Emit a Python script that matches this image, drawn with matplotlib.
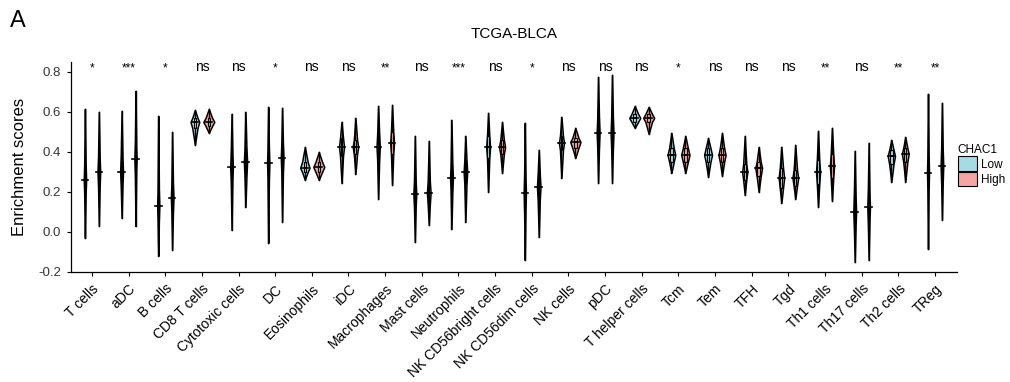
import matplotlib
matplotlib.use("Agg")
import matplotlib.pyplot as plt
from matplotlib.patches import Patch
import numpy as np

plt.rcParams["font.family"] = ["Liberation Sans", "DejaVu Sans"]

cells = ["T cells", "aDC", "B cells", "CD8 T cells", "Cytotoxic cells", "DC",
         "Eosinophils", "iDC", "Macrophages", "Mast cells", "Neutrophils",
         "NK CD56bright cells", "NK CD56dim cells", "NK cells", "pDC",
         "T helper cells", "Tcm", "Tem", "TFH", "Tgd", "Th1 cells",
         "Th17 cells", "Th2 cells", "TReg"]
signif = ["*", "***", "*", "ns", "ns", "*", "ns", "ns", "**", "ns", "***", "ns",
          "*", "ns", "ns", "ns", "*", "ns", "ns", "ns", "**", "ns", "**", "**"]

# CHAC1 low group: min, q1, median, q3, max
low_min = [-0.03, 0.07, -0.12, 0.435, 0.01, -0.055, 0.26, 0.245, 0.165, -0.05,
           0.015, 0.20, -0.14, 0.27, 0.245, 0.52, 0.295, 0.275, 0.185, 0.145,
           0.125, -0.15, 0.25, -0.085]
low_q1 = [0.19, 0.23, 0.06, 0.52, 0.25, 0.26, 0.30, 0.38, 0.36, 0.13,
          0.20, 0.37, 0.10, 0.41, 0.42, 0.55, 0.35, 0.35, 0.26, 0.22,
          0.24, 0.02, 0.34, 0.20]
low_med = [0.26, 0.30, 0.13, 0.55, 0.325, 0.345, 0.32, 0.425, 0.425, 0.19,
           0.27, 0.425, 0.195, 0.445, 0.495, 0.57, 0.385, 0.385, 0.30, 0.27,
           0.30, 0.10, 0.38, 0.295]
low_q3 = [0.34, 0.38, 0.21, 0.57, 0.40, 0.42, 0.35, 0.47, 0.49, 0.25,
          0.34, 0.48, 0.28, 0.48, 0.57, 0.59, 0.42, 0.42, 0.34, 0.32,
          0.36, 0.19, 0.41, 0.39]
low_max = [0.615, 0.605, 0.58, 0.61, 0.59, 0.625, 0.425, 0.55, 0.63, 0.48,
           0.56, 0.595, 0.545, 0.575, 0.775, 0.63, 0.495, 0.47, 0.48, 0.425,
           0.505, 0.405, 0.46, 0.69]

# CHAC1 high group
high_min = [0.03, 0.03, -0.09, 0.495, 0.125, 0.05, 0.26, 0.29, 0.235, 0.035,
            0.05, 0.295, -0.025, 0.37, 0.245, 0.49, 0.295, 0.28, 0.20, 0.165,
            0.155, -0.14, 0.25, 0.06]
high_q1 = [0.23, 0.29, 0.10, 0.53, 0.28, 0.30, 0.30, 0.39, 0.39, 0.14,
           0.24, 0.39, 0.16, 0.42, 0.42, 0.55, 0.35, 0.35, 0.28, 0.23,
           0.27, 0.04, 0.35, 0.25]
high_med = [0.30, 0.365, 0.17, 0.55, 0.35, 0.37, 0.325, 0.425, 0.445, 0.195,
            0.30, 0.425, 0.225, 0.45, 0.495, 0.57, 0.385, 0.385, 0.32, 0.27,
            0.33, 0.125, 0.39, 0.33]
high_q3 = [0.37, 0.44, 0.24, 0.57, 0.42, 0.44, 0.35, 0.46, 0.50, 0.25,
           0.36, 0.46, 0.29, 0.47, 0.57, 0.59, 0.42, 0.42, 0.35, 0.31,
           0.39, 0.21, 0.42, 0.41]
high_max = [0.60, 0.705, 0.50, 0.615, 0.60, 0.62, 0.40, 0.57, 0.635, 0.455,
            0.48, 0.55, 0.41, 0.52, 0.785, 0.625, 0.48, 0.495, 0.425, 0.435,
            0.52, 0.445, 0.475, 0.645]

LOW_COL = "#a6dbe3"
HIGH_COL = "#f3a6a3"
groups = [
    (low_min, low_q1, low_med, low_q3, low_max, LOW_COL, -0.19),
    (high_min, high_q1, high_med, high_q3, high_max, HIGH_COL, 0.19),
]

fig = plt.figure(figsize=(10.1, 3.82), dpi=100)
ax = fig.add_axes([0.0703, 0.288, 0.8772, 0.55])

x = np.arange(len(cells))
for mn, q1, md, q3, mx, col, off in groups:
    for i in range(len(cells)):
        rng = mx[i] - mn[i]
        w = min(0.042 / rng, 0.30)  # equal-area style scaling
        stats = [{"coords": np.array([mn[i], q1[i], md[i], q3[i], mx[i]]),
                  "vals": np.array([0.0, 0.6, 1.0, 0.6, 0.0]),
                  "mean": md[i], "median": md[i], "min": mn[i], "max": mx[i]}]
        parts = ax.violin(stats, positions=[x[i] + off], widths=w,
                          showmeans=False, showextrema=False)
        for b in parts["bodies"]:
            b.set_facecolor(col)
            b.set_edgecolor("black")
            b.set_linewidth(1.1)
            b.set_alpha(1)
        bstats = [{"med": md[i], "q1": q1[i], "q3": q3[i],
                   "whislo": mn[i], "whishi": mx[i], "fliers": []}]
        ax.bxp(bstats, positions=[x[i] + off], widths=min(w * 0.35, 0.07),
               showcaps=False, patch_artist=True,
               boxprops=dict(facecolor=col, edgecolor="black", lw=0.8),
               whiskerprops=dict(color="black", lw=1.0),
               medianprops=dict(color="black", lw=1.3))
        ax.plot([x[i] + off - 0.09, x[i] + off + 0.09], [md[i], md[i]],
                color="black", lw=1.2)

for i, s in enumerate(signif):
    if s == "ns":
        ax.text(x[i], 0.825, s, ha="center", va="center", fontsize=10)
    else:
        ax.text(x[i], 0.815, s, ha="center", va="center", fontsize=8.5)

ax.set_xlim(-0.57, 23.6)
ax.set_ylim(-0.2, 0.85)
ax.set_yticks([-0.2, 0.0, 0.2, 0.4, 0.6, 0.8])
ax.set_yticklabels(["-0.2", "0.0", "0.2", "0.4", "0.6", "0.8"], fontsize=9.5,
                   color="#333333")
ax.set_xticks(x)
ax.set_xticklabels(cells, rotation=45, ha="right", rotation_mode="anchor",
                   fontsize=10)
ax.tick_params(length=3, width=0.8, pad=4)
for s in ("top", "right"):
    ax.spines[s].set_visible(False)
for s in ("left", "bottom"):
    ax.spines[s].set_linewidth(0.9)
ax.set_ylabel("Enrichment scores", fontsize=12, labelpad=8)
ax.set_title("TCGA-BLCA", fontsize=11, pad=17)

handles = [Patch(facecolor=LOW_COL, edgecolor="black", lw=0.8, label="Low"),
           Patch(facecolor=HIGH_COL, edgecolor="black", lw=0.8, label="High")]
leg = fig.legend(handles=handles, title="CHAC1", loc="upper left",
                 bbox_to_anchor=(0.946, 0.63), frameon=False, fontsize=8.5,
                 title_fontsize=8.5, handlelength=1.6, handleheight=1.55,
                 handletextpad=0.35, labelspacing=0.05, borderpad=0.2,
                 borderaxespad=0.0)
leg._legend_box.align = "left"

fig.text(0.01, 0.975, "A", fontsize=17, va="top", ha="left")

fig.savefig("out.png", dpi=100)
